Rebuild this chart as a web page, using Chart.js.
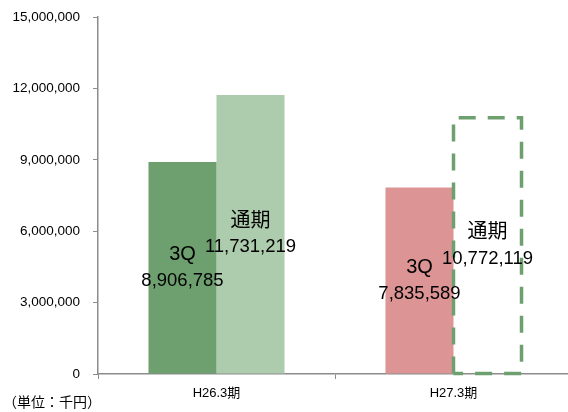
<!DOCTYPE html>
<html>
<head>
<meta charset="utf-8">
<script src="https://cdn.jsdelivr.net/npm/chart.js@4/dist/chart.umd.min.js"></script>
<style>
  html, body { margin: 0; padding: 0; background: #fff; overflow: hidden; }
  #wrap { width: 572px; height: 416px; margin-top: -4px; }
</style>
</head>
<body>
<div id="wrap"><canvas id="salesChart"></canvas></div>
<script>
const categories = ['H26.3期', 'H27.3期'];
const q3Values = [8906785, 7835589];
const fullValues = [11731219, 10772119];
const q3Label = '3Q';
const fullLabel = '通期';
const unitLabel = '（単位：千円）';

const FONT = '"Liberation Sans", Arial, "Noto Sans CJK JP", sans-serif';
const fmt = (v) => v.toLocaleString('en-US');

// dashed outline for the forecast bar, plus in-bar labels and unit note
const decor = {
  id: 'decor',
  afterDatasetsDraw(chart) {
    const ctx = chart.ctx;
    const forecast = chart.getDatasetMeta(1).data[1];
    ctx.save();
    ctx.strokeStyle = '#6d9f6f';
    ctx.lineWidth = 3.5;
    ctx.setLineDash([17, 12]);
    const l = forecast.x - forecast.width / 2;
    const r = forecast.x + forecast.width / 2;
    ctx.beginPath();
    ctx.moveTo(l, forecast.base);
    ctx.lineTo(l, forecast.y);
    ctx.lineTo(r, forecast.y);
    ctx.lineTo(r, forecast.base);
    ctx.lineTo(l, forecast.base);
    ctx.stroke();
    ctx.restore();

    ctx.save();
    ctx.fillStyle = '#000';
    ctx.textAlign = 'center';
    ctx.textBaseline = 'middle';
    chart.data.datasets.forEach((ds, di) => {
      chart.getDatasetMeta(di).data.forEach((bar, i) => {
        const mid = (bar.y + bar.base) / 2;
        ctx.font = '20px ' + FONT;
        ctx.fillText(ds.label, bar.x, mid - 13);
        ctx.font = '18.5px ' + FONT;
        ctx.fillText(fmt(ds.data[i]), bar.x, mid + 13);
      });
    });
    ctx.font = '14px ' + FONT;
    ctx.textAlign = 'left';
    ctx.fillText(unitLabel, 3, chart.chartArea.bottom + 29);
    ctx.restore();
  },
};

new Chart(document.getElementById('salesChart'), {
  type: 'bar',
  data: {
    labels: categories,
    datasets: [
      {
        label: q3Label,
        data: q3Values,
        backgroundColor: ['#6d9f6f', '#dc9494'],
      },
      {
        label: fullLabel,
        data: fullValues,
        backgroundColor: ['#adcbad', 'rgba(0,0,0,0)'],
      },
    ],
  },
  options: {
    responsive: true,
    maintainAspectRatio: false,
    animation: false,
    layout: { padding: { top: 8, right: 0, bottom: 0, left: 0 } },
    plugins: { legend: { display: false }, tooltip: { enabled: false } },
    datasets: { bar: { categoryPercentage: 0.574, barPercentage: 1 } },
    scales: {
      x: {
        grid: { drawOnChartArea: false, tickLength: 5, color: '#8c8c8c' },
        border: { color: '#8c8c8c', width: 1.5 },
        ticks: { color: '#000', padding: 7, font: { size: 13, family: FONT } },
        afterFit: (s) => { s.height = 38; },
      },
      y: {
        min: 0,
        max: 15000000,
        ticks: {
          stepSize: 3000000,
          color: '#000',
          padding: 13,
          font: { size: 13.5, family: FONT },
          callback: (v) => fmt(v),
        },
        grid: { drawOnChartArea: false, tickLength: 5, color: '#8c8c8c' },
        border: { color: '#8c8c8c', width: 1.5 },
        afterFit: (s) => { s.width = 98; },
      },
    },
  },
  plugins: [decor],
});
</script>
</body>
</html>
